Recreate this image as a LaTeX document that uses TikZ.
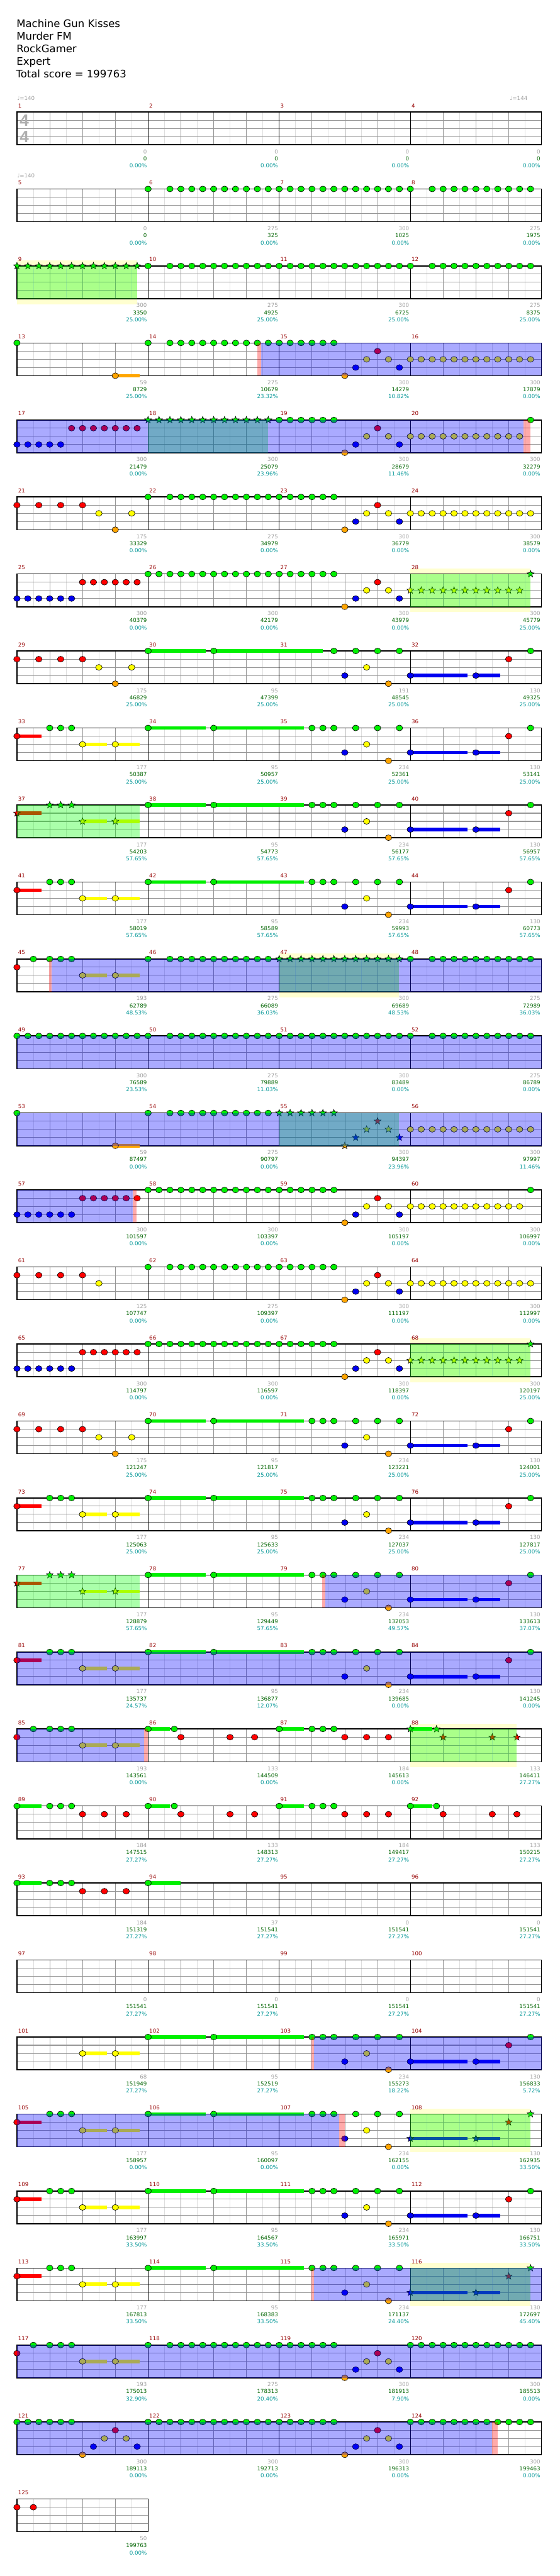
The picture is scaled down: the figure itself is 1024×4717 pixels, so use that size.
\documentclass[tikz,border=0pt]{standalone}
\usepackage{fontspec}
\setmainfont{DejaVu Sans}
\newfontfamily\sigfont{Liberation Sans}

\definecolor{gemG}{RGB}{0,240,0}
\definecolor{gemR}{RGB}{255,0,0}
\definecolor{gemY}{RGB}{255,255,0}
\definecolor{gemB}{RGB}{0,0,240}
\definecolor{gemO}{RGB}{255,165,0}
\definecolor{mnumred}{RGB}{150,0,0}
\definecolor{ptgray}{RGB}{160,160,160}
\definecolor{ptgreen}{RGB}{0,100,0}
\definecolor{ptteal}{RGB}{0,150,150}
\definecolor{sigcol}{RGB}{175,175,175}
\definecolor{bandcol}{RGB}{255,255,208}
\definecolor{gridlight}{RGB}{222,222,222}
\definecolor{griddark}{RGB}{150,150,150}
\definecolor{spcol}{RGB}{0,255,0}
\definecolor{solocol}{RGB}{0,0,255}
\definecolor{stripecol}{RGB}{255,0,0}

\newif\ifstarmode
\newcommand{\gem}[2]{%
    \ifstarmode
        \filldraw[l#2, draw=black, line width=0.35pt, shift={(#1,#2)}]
            (90:3.3pt) -- (126:1.4pt) -- (162:3.3pt) -- (198:1.4pt) -- (234:3.3pt)
            -- (270:1.4pt) -- (306:3.3pt) -- (342:1.4pt) -- (18:3.3pt) -- (54:1.4pt) -- cycle;
    \else
        \filldraw[l#2, draw=black, line width=0.35pt] (#1,#2) ellipse [x radius=3pt, y radius=2.65pt];
    \fi}
\newcommand{\sust}[3]{\fill[l#3] (#1,#3-0.22) rectangle (#2,#3+0.22);}
\newcommand{\hold}[3]{\sust{#1}{#2}{#3}\gem{#1}{#3}}
\newcommand{\run}[4]{\foreach \k in {#2,...,#3}{\gem{#1+\k/3}{#4}}}

\newcommand{\pA}[1]{\gem{#1}{0}\run{#1}{2}{11}{0}}
\newcommand{\pF}[1]{\run{#1}{0}{11}{0}}
\newcommand{\pC}[1]{\run{#1}{0}{5}{0}\gem{#1+2}{4}\gem{#1+7/3}{3}\gem{#1+8/3}{2}\gem{#1+3}{1}\gem{#1+10/3}{2}\gem{#1+11/3}{3}}
\newcommand{\pYa}[1]{\run{#1}{0}{11}{2}}
\newcommand{\pYb}[1]{\run{#1}{0}{10}{2}\gem{#1+11/3}{0}}
\newcommand{\pBR}[1]{\run{#1}{0}{5}{3}\run{#1}{6}{11}{1}}
\newcommand{\pRY}[1]{\foreach \k in {0,2,4,6}{\gem{#1+\k/3}{1}}\gem{#1+2.5}{2}\gem{#1+3}{4}\gem{#1+3.5}{2}}
\newcommand{\pSa}[1]{\hold{#1}{#1+0.75}{1}\run{#1}{3}{5}{0}\hold{#1+2}{#1+2.75}{2}\hold{#1+3}{#1+3.75}{2}}
\newcommand{\pSb}[1]{\hold{#1}{#1+1.75}{0}\hold{#1+2}{#1+4.75}{0}}
\newcommand{\pSc}[1]{\foreach \k in {3,4,5,7,9,11}{\gem{#1+\k/3}{0}}\gem{#1+2}{3}\gem{#1+8/3}{2}\gem{#1+10/3}{4}}
\newcommand{\pSd}[1]{\hold{#1}{#1+1.75}{3}\hold{#1+2}{#1+2.75}{3}\gem{#1+3}{1}\gem{#1+11/3}{0}}
\newcommand{\pSe}[1]{\gem{#1}{1}\gem{#1+0.5}{0}\run{#1}{3}{5}{0}\hold{#1+2}{#1+2.75}{2}\hold{#1+3}{#1+3.75}{2}}
\newcommand{\pTa}[1]{\hold{#1}{#1+2/3}{0}\gem{#1+0.8}{0}\gem{#1+1}{1}\gem{#1+2.5}{1}\gem{#1+3.25}{1}}
\newcommand{\pTb}[1]{\hold{#1}{#1+0.75}{0}\run{#1}{3}{5}{0}\foreach \k in {6,8,10}{\gem{#1+\k/3}{1}}}

\newcommand{\spzone}[2]{\fill[spfill] (#1,0) rectangle (#2,4);}
\newcommand{\spband}[2]{\fill[bandcol] (#1,-0.67) rectangle (#2,4.67);}
\newcommand{\solo}[2]{\fill[solofill] (#1,0) rectangle (#2,4);}
\newcommand{\stripe}[2]{\fill[stripefill] (#1,0) rectangle (#2,4);}

\newcommand{\staffgrid}[1]{%
    \foreach \i in {0.5,1.5,...,#1} \draw[lightline] (\i,0) -- (\i,4);
    \foreach \i in {1,...,#1} \draw[beatline] (\i,0) -- (\i,4);
    \foreach \j in {1,2,3} \draw[laneline] (0,\j) -- (#1,\j);
    \draw[staffedge] (0,0) rectangle (#1,4);}
\newcommand{\fullstaff}{\staffgrid{16}\foreach \i in {4,8,12} \draw[measline] (\i,0) -- (\i,4);}

\newcommand{\mtext}[5]{%
    \node[mnum] (m#2) at (4*#1+0.03,-0.53) {#2};
    \node[gpts] (s#2) at (4*#1+3.97,5.07) {#3};
    \node[tpts] (t#2) at (4*#1+3.97,5.93) {#4};
    \node[ppts] (p#2) at (4*#1+3.97,6.8) {#5\%};}
\newcommand{\scorerow}[2]{\foreach \gv/\tv/\pv [count=\col from 0] in {#2}{\pgfmathtruncatemacro{\mn}{#1+\col}\mtext{\col}{\mn}{\gv}{\tv}{\pv}}}

\begin{document}
\begin{tikzpicture}[x=0.5pt, y=-0.5pt,
    l0/.style={fill=gemG}, l1/.style={fill=gemR}, l2/.style={fill=gemY},
    l3/.style={fill=gemB}, l4/.style={fill=gemO},
    chartrow/.style={shift={(31,205+141*#1)}, x=30pt, y=-7.5pt},
    lightline/.style={draw=gridlight, line width=0.5pt},
    beatline/.style={draw=griddark, line width=0.5pt},
    measline/.style={draw=black, line width=0.5pt},
    laneline/.style={draw=griddark, line width=0.6pt},
    staffedge/.style={draw=black, line width=0.9pt},
    spfill/.style={fill=spcol, fill opacity=0.333},
    solofill/.style={fill=solocol, fill opacity=0.333},
    stripefill/.style={fill=stripecol, fill opacity=0.333},
    titletext/.style={font=\fontsize{9.5}{11}\selectfont, inner sep=0pt, anchor=base west},
    tempo/.style={text=ptgray, font=\fontsize{5}{6}\selectfont, inner sep=0pt, anchor=base west},
    tsig/.style={text=sigcol, font=\sigfont\bfseries\fontsize{15}{15}\selectfont, inner sep=0pt, anchor=base west},
    mnum/.style={text=mnumred, font=\fontsize{5}{6}\selectfont, inner sep=0pt, anchor=base west},
    gpts/.style={text=ptgray, font=\fontsize{5}{6}\selectfont, inner sep=0pt, anchor=base east},
    tpts/.style={text=ptgreen, font=\fontsize{5}{6}\selectfont, inner sep=0pt, anchor=base east},
    ppts/.style={text=ptteal, font=\fontsize{5}{6}\selectfont, inner sep=0pt, anchor=base east}
]
    \fill[white] (0,0) rectangle (1024,4717);
    \useasboundingbox (0,0) rectangle (1024,4717);

    \node[titletext] (song) at (30,50) {Machine Gun Kisses};
    \node[titletext] (artist) at (30,73) {Murder FM};
    \node[titletext] (charter) at (30,96) {RockGamer};
    \node[titletext] (level) at (30,119) {Expert};
    \node[titletext] (total) at (29,142) {Total score = 199763};

    \begin{scope}[chartrow=0]
        \fullstaff
        \node[tempo] (bpmA) at (0,-1.4) {♩=140};
        \node[tempo] (bpmB) at (15.03,-1.4) {♩=144};
        \node[tsig] (sigTop) at (0.08,1.73) {4};
        \node[tsig] (sigBot) at (0.08,3.73) {4};
        \scorerow{1}{0/0/0.00, 0/0/0.00, 0/0/0.00, 0/0/0.00}
    \end{scope}

    \begin{scope}[chartrow=1]
        \fullstaff
        \pA{4}\pF{8}\pA{12}
        \node[tempo] (bpmC) at (0,-1.4) {♩=140};
        \scorerow{5}{0/0/0.00, 275/325/0.00, 300/1025/0.00, 275/1975/0.00}
    \end{scope}

    \begin{scope}[chartrow=2]
        \spband{0}{3.66}
        \fullstaff
        \starmodetrue\pF{0}\starmodefalse
        \pA{4}\pF{8}\pA{12}
        \spzone{0}{3.66}
        \scorerow{9}{300/3350/25.00, 275/4925/25.00, 300/6725/25.00, 275/8375/25.00}
    \end{scope}

    \begin{scope}[chartrow=3]
        \fullstaff
        \gem{0}{0}\hold{3}{3.75}{4}
        \pA{4}\pC{8}\pYa{12}
        \stripe{7.34}{7.44}\solo{7.44}{16}
        \scorerow{13}{59/8729/25.00, 275/10679/23.32, 300/14279/10.82, 300/17879/0.00}
    \end{scope}

    \begin{scope}[chartrow=4]
        \fullstaff
        \run{0}{0}{4}{3}\run{0}{5}{11}{1}
        \starmodetrue\pF{4}\starmodefalse
        \pC{8}\pYb{12}
        \spzone{4}{7.66}\solo{0}{15.45}\stripe{15.45}{15.67}
        \scorerow{17}{300/21479/0.00, 300/25079/23.96, 300/28679/11.46, 300/32279/0.00}
    \end{scope}

    \begin{scope}[chartrow=5]
        \fullstaff
        \pRY{0}\pA{4}\pC{8}\pYa{12}
        \scorerow{21}{175/33329/0.00, 275/34979/0.00, 300/36779/0.00, 300/38579/0.00}
    \end{scope}

    \begin{scope}[chartrow=6]
        \spband{12}{15.66}
        \fullstaff
        \pBR{0}\pF{4}\pC{8}
        \starmodetrue\pYb{12}\starmodefalse
        \spzone{12}{15.66}
        \scorerow{25}{300/40379/0.00, 300/42179/0.00, 300/43979/0.00, 300/45779/25.00}
    \end{scope}

    \begin{scope}[chartrow=7]
        \fullstaff
        \pRY{0}\hold{4}{5.75}{0}\hold{6}{9.33}{0}
        \foreach \k in {5,7,9,11}{\gem{8+\k/3}{0}}\gem{10}{3}\gem{8+8/3}{2}\gem{8+10/3}{4}
        \pSd{12}
        \scorerow{29}{175/46829/25.00, 95/47399/25.00, 191/48545/25.00, 130/49325/25.00}
    \end{scope}

    \begin{scope}[chartrow=8]
        \fullstaff
        \pSa{0}\pSb{4}\pSc{8}\pSd{12}
        \scorerow{33}{177/50387/25.00, 95/50957/25.00, 234/52361/25.00, 130/53141/25.00}
    \end{scope}

    \begin{scope}[chartrow=9]
        \fullstaff
        \starmodetrue\pSa{0}\starmodefalse
        \pSb{4}\pSc{8}\pSd{12}
        \spzone{0}{3.75}
        \scorerow{37}{177/54203/57.65, 95/54773/57.65, 234/56177/57.65, 130/56957/57.65}
    \end{scope}

    \begin{scope}[chartrow=10]
        \fullstaff
        \pSa{0}\pSb{4}\pSc{8}\pSd{12}
        \scorerow{41}{177/58019/57.65, 95/58589/57.65, 234/59993/57.65, 130/60773/57.65}
    \end{scope}

    \begin{scope}[chartrow=11]
        \spband{8}{11.65}
        \fullstaff
        \pSe{0}\pA{4}
        \starmodetrue\pF{8}\starmodefalse
        \pA{12}
        \spzone{8}{11.65}\stripe{0.98}{1.06}\solo{1.06}{16}
        \scorerow{45}{193/62789/48.53, 275/66089/36.03, 300/69689/48.53, 275/72989/36.03}
    \end{scope}

    \begin{scope}[chartrow=12]
        \fullstaff
        \pF{0}\pA{4}\pF{8}\pA{12}
        \solo{0}{16}
        \scorerow{49}{300/76589/23.53, 275/79889/11.03, 300/83489/0.00, 275/86789/0.00}
    \end{scope}

    \begin{scope}[chartrow=13]
        \fullstaff
        \gem{0}{0}\hold{3}{3.75}{4}\pA{4}
        \starmodetrue\pC{8}\starmodefalse
        \pYa{12}
        \spzone{8}{11.65}\solo{0}{16}
        \scorerow{53}{59/87497/0.00, 275/90797/0.00, 300/94397/23.96, 300/97997/11.46}
    \end{scope}

    \begin{scope}[chartrow=14]
        \fullstaff
        \pBR{0}\pF{4}\pC{8}\pYb{12}
        \solo{0}{3.53}\stripe{3.53}{3.65}
        \scorerow{57}{300/101597/0.00, 300/103397/0.00, 300/105197/0.00, 300/106997/0.00}
    \end{scope}

    \begin{scope}[chartrow=15]
        \fullstaff
        \foreach \k in {0,2,4,6}{\gem{\k/3}{1}}\gem{2.5}{2}
        \pA{4}\pC{8}\pYa{12}
        \scorerow{61}{125/107747/0.00, 275/109397/0.00, 300/111197/0.00, 300/112997/0.00}
    \end{scope}

    \begin{scope}[chartrow=16]
        \spband{12}{15.66}
        \fullstaff
        \pBR{0}\pF{4}\pC{8}
        \starmodetrue\pYb{12}\starmodefalse
        \spzone{12}{15.66}
        \scorerow{65}{300/114797/0.00, 300/116597/0.00, 300/118397/0.00, 300/120197/25.00}
    \end{scope}

    \begin{scope}[chartrow=17]
        \fullstaff
        \pRY{0}\pSb{4}\pSc{8}\pSd{12}
        \scorerow{69}{175/121247/25.00, 95/121817/25.00, 234/123221/25.00, 130/124001/25.00}
    \end{scope}

    \begin{scope}[chartrow=18]
        \fullstaff
        \pSa{0}\pSb{4}\pSc{8}\pSd{12}
        \scorerow{73}{177/125063/25.00, 95/125633/25.00, 234/127037/25.00, 130/127817/25.00}
    \end{scope}

    \begin{scope}[chartrow=19]
        \fullstaff
        \starmodetrue\pSa{0}\starmodefalse
        \pSb{4}\pSc{8}\pSd{12}
        \spzone{0}{3.75}\stripe{9.31}{9.4}\solo{9.4}{16}
        \scorerow{77}{177/128879/57.65, 95/129449/57.65, 234/132053/49.57, 130/133613/37.07}
    \end{scope}

    \begin{scope}[chartrow=20]
        \fullstaff
        \pSa{0}\pSb{4}\pSc{8}\pSd{12}
        \solo{0}{16}
        \scorerow{81}{177/135737/24.57, 95/136877/12.07, 234/139685/0.00, 130/141245/0.00}
    \end{scope}

    \begin{scope}[chartrow=21]
        \spband{12}{15.25}
        \fullstaff
        \pSe{0}\pTa{4}\pTb{8}
        \starmodetrue\pTa{12}\starmodefalse
        \spzone{12}{15.25}\solo{0}{3.87}\stripe{3.87}{4}
        \scorerow{85}{193/143561/0.00, 133/144509/0.00, 184/145613/0.00, 133/146411/27.27}
    \end{scope}

    \begin{scope}[chartrow=22]
        \fullstaff
        \pTb{0}\pTa{4}\pTb{8}\pTa{12}
        \scorerow{89}{184/147515/27.27, 133/148313/27.27, 184/149417/27.27, 133/150215/27.27}
    \end{scope}

    \begin{scope}[chartrow=23]
        \fullstaff
        \pTb{0}\hold{4}{5}{0}
        \scorerow{93}{184/151319/27.27, 37/151541/27.27, 0/151541/27.27, 0/151541/27.27}
    \end{scope}

    \begin{scope}[chartrow=24]
        \fullstaff
        \scorerow{97}{0/151541/27.27, 0/151541/27.27, 0/151541/27.27, 0/151541/27.27}
    \end{scope}

    \begin{scope}[chartrow=25]
        \fullstaff
        \hold{2}{2.75}{2}\hold{3}{3.75}{2}\pSb{4}\pSc{8}\pSd{12}
        \stripe{8.98}{9.07}\solo{9.07}{16}
        \scorerow{101}{68/151949/27.27, 95/152519/27.27, 234/155273/18.22, 130/156833/5.72}
    \end{scope}

    \begin{scope}[chartrow=26]
        \spband{12}{15.66}
        \fullstaff
        \pSa{0}\pSb{4}\pSc{8}
        \starmodetrue\pSd{12}\starmodefalse
        \spzone{12}{15.66}\solo{0}{9.83}\stripe{9.83}{10}
        \scorerow{105}{177/158957/0.00, 95/160097/0.00, 234/162155/0.00, 130/162935/33.50}
    \end{scope}

    \begin{scope}[chartrow=27]
        \fullstaff
        \pSa{0}\pSb{4}\pSc{8}\pSd{12}
        \scorerow{109}{177/163997/33.50, 95/164567/33.50, 234/165971/33.50, 130/166751/33.50}
    \end{scope}

    \begin{scope}[chartrow=28]
        \spband{12}{15.66}
        \fullstaff
        \pSa{0}\pSb{4}\pSc{8}
        \starmodetrue\pSd{12}\starmodefalse
        \spzone{12}{15.66}\stripe{8.98}{9.07}\solo{9.07}{16}
        \scorerow{113}{177/167813/33.50, 95/168383/33.50, 234/171137/24.40, 130/172697/45.40}
    \end{scope}

    \begin{scope}[chartrow=29]
        \fullstaff
        \pSe{0}\pA{4}\pC{8}\pF{12}
        \solo{0}{16}
        \scorerow{117}{193/175013/32.90, 275/178313/20.40, 300/181913/7.90, 300/185513/0.00}
    \end{scope}

    \begin{scope}[chartrow=30]
        \fullstaff
        \pC{0}\pF{4}\pC{8}\pF{12}
        \solo{0}{14.5}\stripe{14.5}{14.67}
        \scorerow{121}{300/189113/0.00, 300/192713/0.00, 300/196313/0.00, 300/199463/0.00}
    \end{scope}

    \begin{scope}[chartrow=31]
        \staffgrid{4}
        \gem{0}{1}\gem{0.5}{1}
        \scorerow{125}{50/199763/0.00}
    \end{scope}
\end{tikzpicture}
\end{document}
